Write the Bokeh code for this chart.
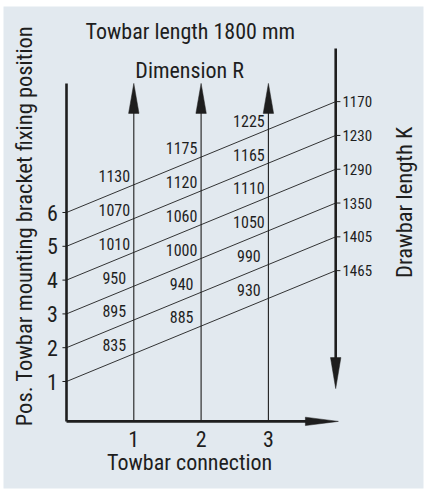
from bokeh.plotting import figure
from bokeh.models import Range1d
from bokeh.core.properties import value
from bokeh.embed import file_html
from bokeh.resources import INLINE

# ---- data ----
positions = [1, 2, 3, 4, 5, 6]                       # Pos. towbar mounting bracket fixing position
drawbar_K = [1465, 1405, 1350, 1290, 1230, 1170]      # Drawbar length K (right scale)
connections = [1, 2, 3]                               # Towbar connection
R_conn1 = [835, 895, 950, 1010, 1070, 1130]           # Dimension R at connection 1
R_conn2 = [885, 940, 1000, 1060, 1120, 1175]          # Dimension R at connection 2
R_conn3 = [930, 990, 1050, 1110, 1165, 1225]          # Dimension R at connection 3
x_tick_labels = ["1", "2", "3"]
y_tick_labels = ["1", "2", "3", "4", "5", "6"]

# ---- layout constants ----
SLOPE = 0.82      # rise of the nomogram lines per connection unit
XR = 4.0          # x of right (drawbar) scale
Y_BOT = -0.18     # y of bottom axis
Y_TOP = 9.82      # top of left axis / arrows
Y_RTOP = 10.85    # top of right scale
Y_RTIP = 0.79     # tip of right down arrow
SX = 67.3         # px per x unit
SY = 33.8         # px per y unit
X0, Y0 = 66, 414.8  # screen position of data origin

FONT = value("Roboto Condensed, DejaVu Sans Condensed, Liberation Sans")
INK = "#1e1e1e"
BG = "#e2e9ef"

W, H = 426, 490
L, R, T, B = 3, 3, 6, 2   # white margins around the panel
p = figure(width=W, height=H, output_backend="svg", toolbar_location=None,
           x_range=Range1d((L - X0) / SX, (W - R - X0) / SX),
           y_range=Range1d((Y0 - (H - B)) / SY, (Y0 - T) / SY),
           x_axis_type=None, y_axis_type=None,
           min_border=0, min_border_left=L, min_border_right=R,
           min_border_top=T, min_border_bottom=B)
p.grid.visible = False
p.outline_line_color = None
p.background_fill_color = BG
p.border_fill_color = "white"

# nomogram lines: from left scale (position) to right scale (drawbar length)
xs = [[0, XR] for _ in positions]
ys = [[k, k + SLOPE * XR] for k in positions]
p.multi_line(xs=xs, ys=ys, line_color=INK, line_width=0.9)

# small ticks at right scale labels
p.multi_line(xs=[[XR, XR + 0.07] for _ in positions],
             ys=[[k + SLOPE * XR] * 2 for k in positions], line_color=INK, line_width=1)
# small ticks on left axis
p.multi_line(xs=[[-0.06, 0] for _ in positions],
             ys=[[k, k] for k in positions], line_color=INK, line_width=1)

# vertical arrows at connections (Dimension R)
p.multi_line(xs=[[c, c] for c in connections], ys=[[Y_BOT, Y_TOP - 0.6] for _ in connections],
             line_color=INK, line_width=1.1)
hw = 5.2 / SX
hl = 30 / SY
p.patches(xs=[[c - hw, c, c + hw] for c in connections],
          ys=[[Y_TOP - hl, Y_TOP, Y_TOP - hl] for _ in connections],
          fill_color=INK, line_color=INK, line_width=0.5)

# axes
p.line([0, 0], [Y_BOT, Y_TOP], line_color=INK, line_width=2.6)
p.line([0, XR + 0.04 - 0.3], [Y_BOT, Y_BOT], line_color=INK, line_width=2.6)
p.line([XR, XR], [Y_RTOP, Y_RTIP + 0.6], line_color=INK, line_width=2.6)
# right arrowhead on bottom axis
ahl = 33 / SX
ahw = 4.2 / SY
p.patch([XR + 0.04 - ahl, XR + 0.04, XR + 0.04 - ahl], [Y_BOT - ahw, Y_BOT, Y_BOT + ahw],
        fill_color=INK, line_color=INK, line_width=0.5)
# down arrowhead on right scale
dhw = 5.2 / SX
dhl = 31 / SY
p.patch([XR - dhw, XR, XR + dhw], [Y_RTIP + dhl, Y_RTIP, Y_RTIP + dhl],
        fill_color=INK, line_color=INK, line_width=0.5)

# R value labels
lab_x, lab_y, lab_t = [], [], []
for c, vals in zip(connections, [R_conn1, R_conn2, R_conn3]):
    for k, v in zip(positions, vals):
        lab_x.append(c - 0.29)
        lab_y.append(k + SLOPE * (c - 0.3) + 0.5)
        lab_t.append(str(v))
p.text(x=lab_x, y=lab_y, text=lab_t, text_font=FONT, text_font_size="16px",
       text_align="center", text_baseline="middle", text_color=INK)

# K labels on right
p.text(x=[XR + 0.1] * len(positions), y=[k + SLOPE * XR for k in positions],
       text=[str(v) for v in drawbar_K], text_font=FONT, text_font_size="15px",
       text_align="left", text_baseline="middle", text_color=INK)

# tick labels
p.text(x=connections, y=[-0.69] * 3, text=x_tick_labels, text_font=FONT,
       text_font_size="22px", text_align="center", text_baseline="middle", text_color=INK)
p.text(x=[-0.21] * 6, y=positions, text=y_tick_labels, text_font=FONT,
       text_font_size="22px", text_align="center", text_baseline="middle", text_color=INK)

# titles
p.text(x=[1.84], y=[11.36], text=["Towbar length 1800 mm"], text_font=FONT,
       text_font_size="22px", text_align="center", text_baseline="middle", text_color=INK)
p.text(x=[1.83], y=[10.2], text=["Dimension R"], text_font=FONT,
       text_font_size="22px", text_align="center", text_baseline="middle", text_color=INK)
p.text(x=[1.83], y=[-1.40], text=["Towbar connection"], text_font=FONT,
       text_font_size="22px", text_align="center", text_baseline="middle", text_color=INK)
p.text(x=[-0.63], y=[5.6], text=["Pos. Towbar mounting bracket fixing position"], angle=1.5708,
       text_font=FONT, text_font_size="22.5px", text_align="center", text_baseline="middle",
       text_color=INK)
p.text(x=[5.02], y=[6.3], text=["Drawbar length K"], angle=1.5708,
       text_font=FONT, text_font_size="22.5px", text_align="center", text_baseline="middle",
       text_color=INK)

open("out.html", "w").write(file_html(p, INLINE))
